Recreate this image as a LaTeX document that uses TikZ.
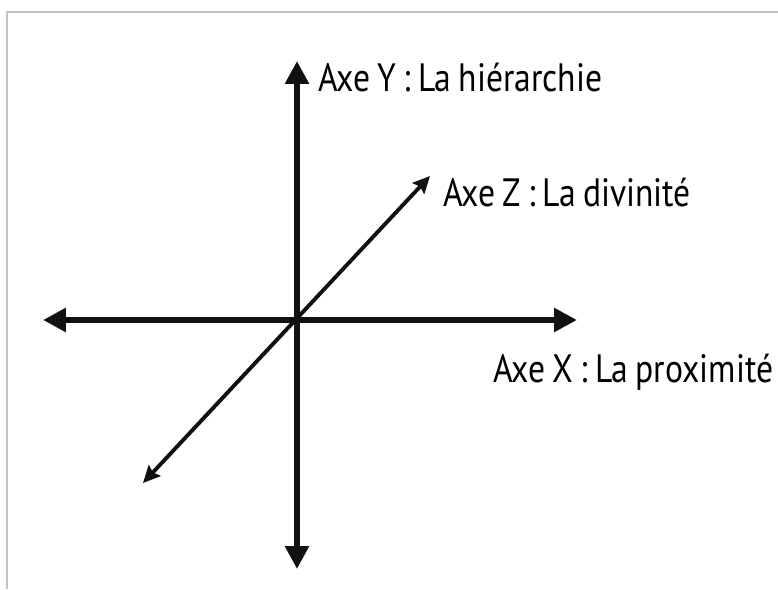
\documentclass[tikz,border=0pt]{standalone}
\usepackage{fontspec}
\setmainfont[FakeStretch=0.85,WordSpace=0.8]{PT Sans}
\usetikzlibrary{arrows.meta,positioning}
\definecolor{frameline}{RGB}{195,195,195}
\definecolor{axisink}{RGB}{17,17,17}
\tikzset{mainaxis/.style={axisink,line width=3.4pt,
  {Triangle[length=0.46cm,width=0.46cm]}-{Triangle[length=0.46cm,width=0.46cm]}},
 depthaxis/.style={axisink,line width=2.2pt,
  {Stealth[length=0.34cm,width=0.32cm,inset=0.05cm]}-{Stealth[length=0.34cm,width=0.32cm,inset=0.05cm]}},
 axislabel/.style={font=\fontsize{22.5}{26}\selectfont,inner sep=0pt,anchor=base west}}

\begin{document}
\begin{tikzpicture}[x=0.02cm,y=0.02cm]
\useasboundingbox (0,0) rectangle (778,589);
\draw[frameline,line width=1.2pt] (7,0)--(7,577)--(778,577);
% axes
\coordinate (O) at (297,269);
\coordinate (ytop) at (297,528);
\coordinate (ybot) at (297,20);
\coordinate (xleft) at (43,269);
\coordinate (xright) at (577,269);
\coordinate (znear) at (143,106);
\coordinate (zfar) at (430,413);
\draw[mainaxis] (ybot)--(ytop);
\draw[mainaxis] (xleft)--(xright);
\draw[depthaxis] (znear)--(zfar);
% labels
\node[axislabel] (ylabel) at (318,497) {Axe Y : La hiérarchie};
\node[axislabel] (zlabel) at (443,382) {Axe Z : La divinité};
\node[axislabel] (xlabel) at (493,207) {Axe X : La proximité};
\end{tikzpicture}
\end{document}
